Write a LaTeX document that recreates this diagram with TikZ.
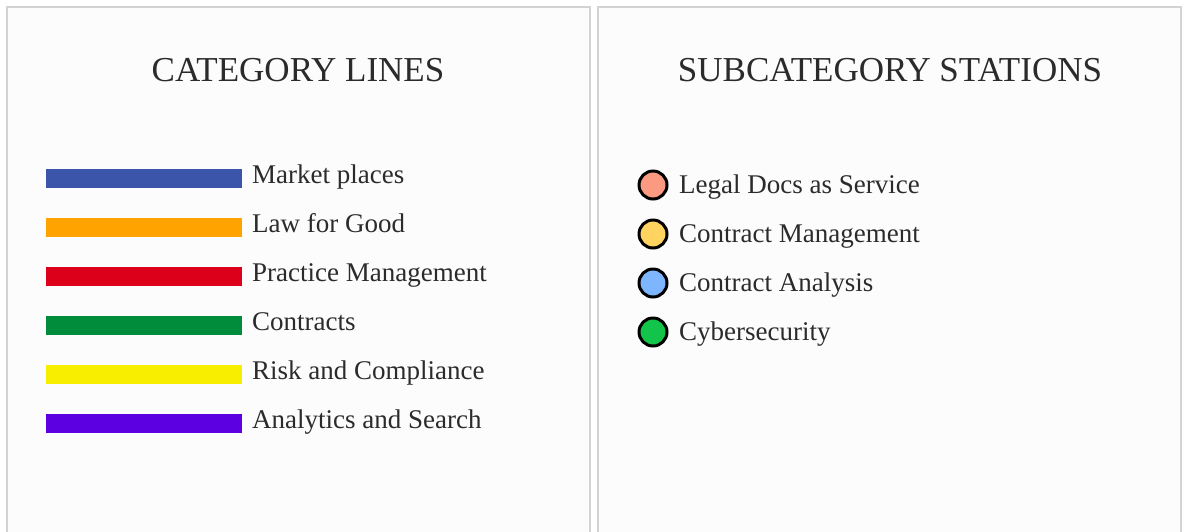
\documentclass[tikz,border=0pt]{standalone}
\usepackage{fontspec}
\setmainfont{Liberation Serif}
\definecolor{panelgray}{HTML}{D3D3D3}
\definecolor{txtgray}{HTML}{2B2B2B}
\definecolor{lineblue}{HTML}{3A55A9}
\definecolor{lineorange}{HTML}{FFA300}
\definecolor{linered}{HTML}{DC001B}
\definecolor{linegreen}{HTML}{008C3B}
\definecolor{lineyellow}{HTML}{F7EE00}
\definecolor{linepurple}{HTML}{5D00E1}
\definecolor{stsalmon}{HTML}{FB9A80}
\definecolor{styellow}{HTML}{FFD35F}
\definecolor{stblue}{HTML}{7DB6FF}
\definecolor{stgreen}{HTML}{13C44A}
\begin{document}
\begin{tikzpicture}[x=1pt,y=-1pt,
    panel/.style={draw=panelgray,line width=2pt,fill=white!99!black},
    title/.style={anchor=base,text=txtgray,font=\fontsize{35}{40}\selectfont},
    label/.style={anchor=base west,text=txtgray,inner sep=0pt,font=\fontsize{27}{32}\selectfont},
    catline/.style={minimum width=196pt,minimum height=19pt,inner sep=0pt,draw=none},
    station/.style={circle,draw=black,line width=3pt,minimum size=28pt,inner sep=0pt}]
        \useasboundingbox (0,0) rectangle (1182,531);
        % panels
        \draw[panel] (7,532) -- (7,7) -- (590,7) -- (590,532);
        \draw[panel] (598,532) -- (598,7) -- (1181,7) -- (1181,532);
        \node[title] (cattitle) at (298,81) {CATEGORY LINES};
        \node[title] (subtitle) at (890,81) {SUBCATEGORY STATIONS};
        % category lines
        \node[catline,fill=lineblue] (market) at (144,178.5) {};
        \node[label] (marketlbl) at (252,183) {Market places};
        \node[catline,fill=lineorange] (lawgood) at (144,227.5) {};
        \node[label] (lawgoodlbl) at (252,232) {Law for Good};
        \node[catline,fill=linered] (practice) at (144,276.5) {};
        \node[label] (practicelbl) at (252,281) {Practice Management};
        \node[catline,fill=linegreen] (contracts) at (144,325.5) {};
        \node[label] (contractslbl) at (252,330) {Contracts};
        \node[catline,fill=lineyellow] (risk) at (144,374.5) {};
        \node[label] (risklbl) at (252,379) {Risk and Compliance};
        \node[catline,fill=linepurple] (analytics) at (144,423.5) {};
        \node[label] (analyticslbl) at (252,428) {Analytics and Search};
        % subcategory stations
        \node[station,fill=stsalmon] (legaldocs) at (653,185) {};
        \node[label] (legaldocslbl) at (679,193) {Legal Docs as Service};
        \node[station,fill=styellow] (contractmgmt) at (653,234) {};
        \node[label] (contractmgmtlbl) at (679,242) {Contract Management};
        \node[station,fill=stblue] (contractana) at (653,283) {};
        \node[label] (contractanalbl) at (679,291) {Contract Analysis};
        \node[station,fill=stgreen] (cyber) at (653,332) {};
        \node[label] (cyberlbl) at (679,340) {Cybersecurity};
    \end{tikzpicture}
\end{document}
